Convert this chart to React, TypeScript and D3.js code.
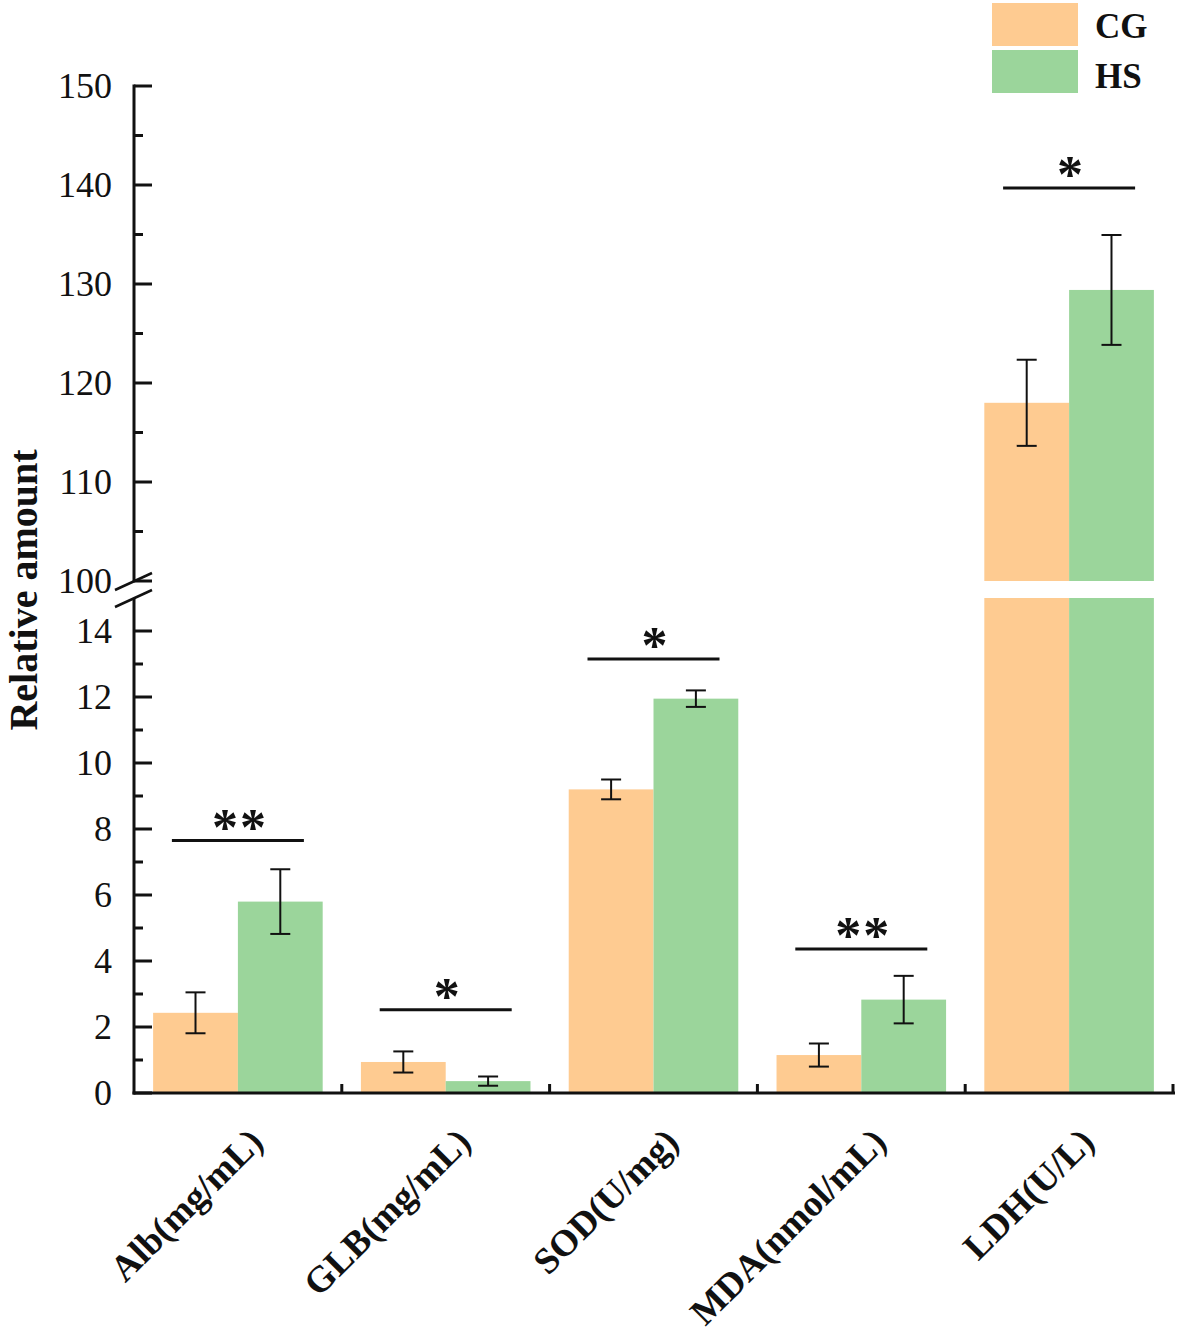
import React from "react";
import * as d3 from "d3";

const categories = ["Alb(mg/mL)", "GLB(mg/mL)", "SOD(U/mg)", "MDA(nmol/mL)", "LDH(U/L)"];
const seriesNames = ["CG", "HS"];
const cgMeans = [2.43, 0.94, 9.2, 1.15, 118.0];
const cgErr = [0.62, 0.32, 0.3, 0.35, 4.35];
const hsMeans = [5.8, 0.36, 11.95, 2.83, 129.4];
const hsErr = [0.98, 0.14, 0.25, 0.72, 5.55];
const sigLabels = ["**", "*", "*", "**", "*"];
const sigValues = [7.65, 2.52, 13.15, 4.36, 139.7];
const lowTicks = [0, 2, 4, 6, 8, 10, 12, 14];
const lowMinor = [1, 3, 5, 7, 9, 11, 13];
const highTicks = [100, 110, 120, 130, 140, 150];
const highMinor = [105, 115, 125, 135, 145];

const colors = ["#FECB91", "#9BD59B"];
const FONT = "'Times New Roman', 'Liberation Serif', serif";

export default function App() {
  const W = 1181, H = 1333;
  const axisX = 134;
  const axisY = 1093;
  const yLow = d3.scaleLinear().domain([0, 15]).range([axisY, 598]);
  const yHigh = d3.scaleLinear().domain([100, 150]).range([581, 86]);
  const yv = (v: number) => (v <= 15 ? yLow(v) : yHigh(v));
  const x0 = d3.scaleBand<string>().domain(categories).range([axisX, 1173]).paddingInner(0).paddingOuter(0);
  const bw = x0.bandwidth();
  const x1 = d3.scaleBand<string>().domain(seriesNames).range([bw * 0.092, bw * 0.908]).padding(0);
  const series = [
    { name: "CG", means: cgMeans, errs: cgErr, color: colors[0] },
    { name: "HS", means: hsMeans, errs: hsErr, color: colors[1] },
  ];

  const bars: React.ReactNode[] = [];
  const errs: React.ReactNode[] = [];
  series.forEach((s, si) => {
    categories.forEach((c, ci) => {
      const bx = (x0(c) as number) + (x1(s.name) as number);
      const w = x1.bandwidth();
      const v = s.means[ci];
      if (v <= 15) {
        bars.push(<rect key={`b${si}${ci}`} x={bx} y={yLow(v)} width={w} height={axisY - yLow(v)} fill={s.color} />);
      } else {
        bars.push(<rect key={`b${si}${ci}l`} x={bx} y={yLow(15)} width={w} height={axisY - yLow(15)} fill={s.color} />);
        bars.push(<rect key={`b${si}${ci}h`} x={bx} y={yHigh(v)} width={w} height={yHigh(100) - yHigh(v)} fill={s.color} />);
      }
      const cx = bx + w / 2;
      const top = yv(v + s.errs[ci]);
      const bot = yv(v - s.errs[ci]);
      errs.push(
        <g key={`e${si}${ci}`} stroke="#111" strokeWidth={2}>
          <line x1={cx} x2={cx} y1={top} y2={bot} />
          <line x1={cx - 10} x2={cx + 10} y1={top} y2={top} />
          <line x1={cx - 10} x2={cx + 10} y1={bot} y2={bot} />
        </g>
      );
    });
  });

  const sig = categories.map((c, ci) => {
    const cx = (x0(c) as number) + bw / 2;
    const y = yv(sigValues[ci]);
    return (
      <g key={`s${ci}`}>
        <line x1={cx - 66} x2={cx + 66} y1={y} y2={y} stroke="#111" strokeWidth={3} />
        <text x={cx + 2} y={y + 4} textAnchor="middle" fontFamily={FONT} fontWeight="bold" fontSize={52} fill="#111" letterSpacing={2}>
          {sigLabels[ci]}
        </text>
      </g>
    );
  });

  const tickLabelProps = { fontFamily: FONT, fontSize: 36, textAnchor: "end" as const, fill: "#111" };

  return (
    <svg width={W} height={H} style={{ position: "absolute", left: 0, top: 0, background: "#fff" }}>
      {bars}
      {errs}
      {sig}
      <g stroke="#111" strokeWidth={3}>
        <line x1={axisX} x2={axisX} y1={yHigh(150) - 1.5} y2={yHigh(100)} />
        <line x1={axisX} x2={axisX} y1={yLow(15)} y2={axisY + 1.5} />
        <line x1={axisX - 1.5} x2={1175} y1={axisY} y2={axisY} />
        {lowTicks.map((t) => (
          <line key={`lt${t}`} x1={axisX} x2={axisX + 18} y1={yLow(t)} y2={yLow(t)} />
        ))}
        {lowMinor.map((t) => (
          <line key={`lm${t}`} x1={axisX} x2={axisX + 9} y1={yLow(t)} y2={yLow(t)} />
        ))}
        {highTicks.map((t) => (
          <line key={`ht${t}`} x1={axisX} x2={axisX + 18} y1={yHigh(t)} y2={yHigh(t)} />
        ))}
        {highMinor.map((t) => (
          <line key={`hm${t}`} x1={axisX} x2={axisX + 9} y1={yHigh(t)} y2={yHigh(t)} />
        ))}
        {categories.map((c, ci) => {
          const xe = (x0(c) as number) + bw;
          return <line key={`ct${ci}`} x1={xe} x2={xe} y1={axisY} y2={axisY - 9} />;
        })}
      </g>
      <g stroke="#111" strokeWidth={2.5}>
        <line x1={115} y1={yHigh(100) + 9} x2={152} y2={yHigh(100) - 8} />
        <line x1={115} y1={yLow(15) + 9} x2={152} y2={yLow(15) - 8} />
      </g>
      {lowTicks.map((t) => (
        <text key={`ll${t}`} x={112} y={yLow(t)} dy="0.34em" {...tickLabelProps}>{t}</text>
      ))}
      {highTicks.map((t) => (
        <text key={`hl${t}`} x={112} y={yHigh(t)} dy="0.34em" {...tickLabelProps}>{t}</text>
      ))}
      <text
        transform={`translate(37, 590) rotate(-90)`}
        textAnchor="middle"
        fontFamily={FONT}
        fontWeight="bold"
        fontSize={40}
        fill="#111"
      >
        Relative amount
      </text>
      {categories.map((c, ci) => {
        const cx = (x0(c) as number) + bw / 2 + 27;
        return (
          <text
            key={`cl${ci}`}
            transform={`translate(${cx}, 1144) rotate(-45)`}
            textAnchor="end"
            fontFamily={FONT}
            fontWeight="bold"
            fontSize={37}
            fill="#111"
          >
            {c}
          </text>
        );
      })}
      {series.map((s, si) => (
        <g key={`lg${si}`}>
          <rect x={992} y={3 + si * 47} width={86} height={43} fill={s.color} />
          <text x={1095} y={38 + si * 50} fontFamily={FONT} fontWeight="bold" fontSize={35} fill="#111">
            {s.name}
          </text>
        </g>
      ))}
    </svg>
  );
}
